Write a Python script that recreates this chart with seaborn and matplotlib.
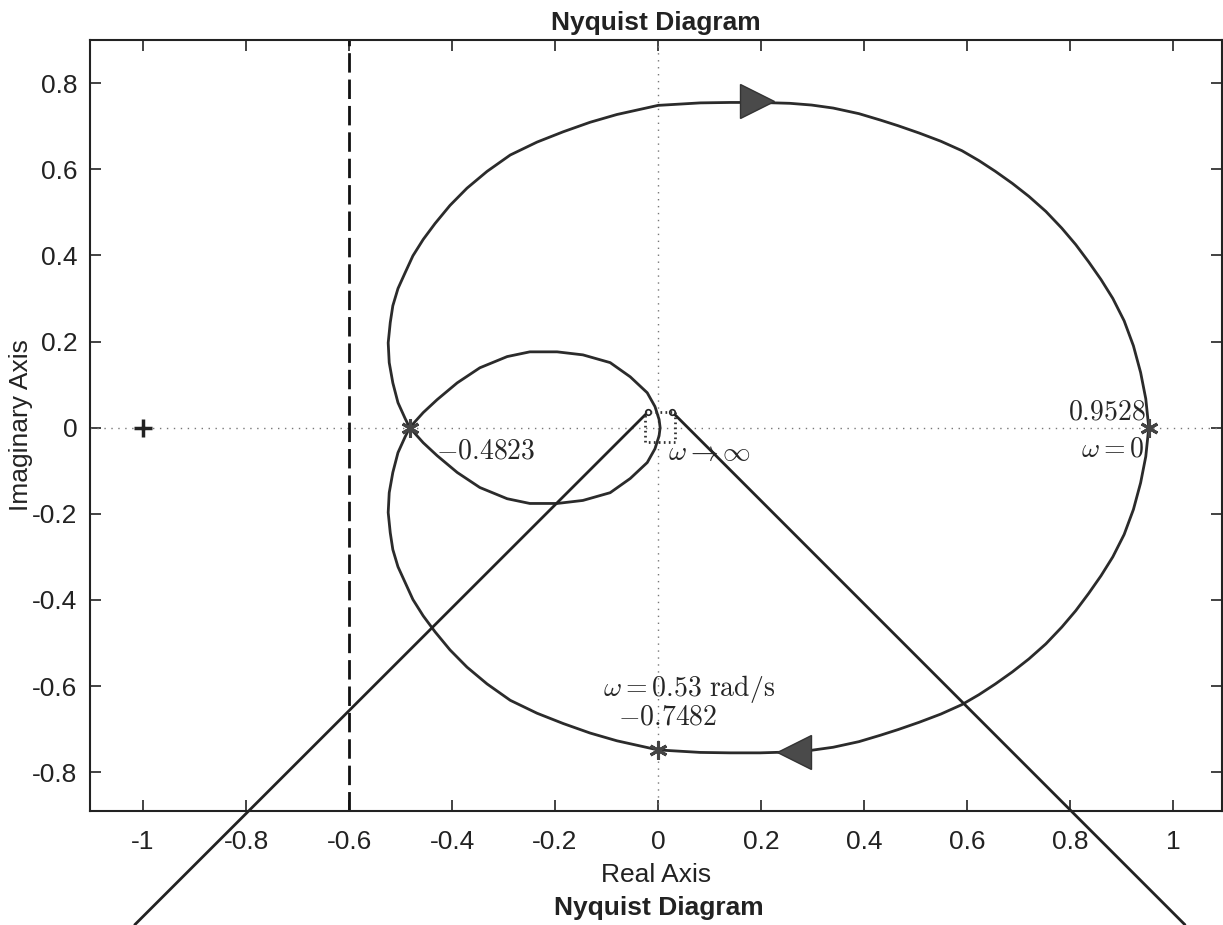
import numpy as np
import pandas as pd
import matplotlib
matplotlib.use("Agg")
import matplotlib.pyplot as plt
import seaborn as sns

# positive frequency branch (w = 0 -> inf)
re_pos = [0.9528, 0.947, 0.937, 0.923, 0.905, 0.883, 0.860, 0.836, 0.811, 0.784,
          0.753, 0.720, 0.688, 0.655, 0.623, 0.590, 0.549, 0.507, 0.466, 0.432,
          0.390, 0.340, 0.298, 0.256, 0.198, 0.140, 0.082, 0.040, 0.0,
          -0.035, -0.080, -0.132, -0.184, -0.235, -0.287, -0.332, -0.371, -0.404,
          -0.433, -0.456, -0.476, -0.491, -0.505, -0.515, -0.520, -0.524, -0.522,
          -0.515, -0.505, -0.491, -0.4823,
          -0.456, -0.429, -0.390, -0.346, -0.293, -0.249, -0.196, -0.146, -0.093,
          -0.054, -0.021, -0.006, 0.002, 0.004]
im_pos = [0.0, -0.067, -0.128, -0.190, -0.248, -0.300, -0.344, -0.385, -0.425, -0.463,
          -0.502, -0.537, -0.567, -0.595, -0.620, -0.643, -0.665, -0.684, -0.701, -0.714,
          -0.729, -0.742, -0.749, -0.753, -0.755, -0.755, -0.754, -0.751, -0.7482,
          -0.739, -0.727, -0.709, -0.687, -0.663, -0.633, -0.595, -0.556, -0.516,
          -0.474, -0.437, -0.399, -0.360, -0.323, -0.283, -0.244, -0.197, -0.151,
          -0.104, -0.058, -0.021, 0.0,
          0.035, 0.065, 0.104, 0.139, 0.165, 0.176, 0.176, 0.169, 0.151,
          0.118, 0.081, 0.049, 0.019, 0.0]

# marked points
mark_re = [0.9528, -0.4823, 0.0]
mark_im = [0.0, 0.0, -0.7482]

# direction arrows on the curve
arrow_re = [0.192, 0.264]
arrow_im = [0.758, -0.752]
arrow_mk = [">", "<"]

# hand drawn lines and the zoom box near the origin
left_line_re = [-0.019, -1.016]
left_line_im = [0.037, -1.154]
right_line_re = [0.027, 1.023]
right_line_im = [0.037, -1.154]
box_re = [-0.025, 0.033, 0.033, -0.025, -0.025]
box_im = [0.037, 0.037, -0.033, -0.033, 0.037]

xticks = [-1, -0.8, -0.6, -0.4, -0.2, 0, 0.2, 0.4, 0.6, 0.8, 1]
xtick_labels = ["-1", "-0.8", "-0.6", "-0.4", "-0.2", "0", "0.2", "0.4", "0.6", "0.8", "1"]
yticks = [-0.8, -0.6, -0.4, -0.2, 0, 0.2, 0.4, 0.6, 0.8]
ytick_labels = ["-0.8", "-0.6", "-0.4", "-0.2", "0", "0.2", "0.4", "0.6", "0.8"]

sns.set_theme(style="ticks")
plt.rcParams["font.family"] = ["Liberation Sans", "DejaVu Sans"]
plt.rcParams["mathtext.fontset"] = "cm"

# negative frequencies are the mirror image of the positive branch
curve = pd.DataFrame({
    "re": re_pos + re_pos[::-1],
    "im": im_pos + [-v for v in im_pos[::-1]],
})

fig = plt.figure(figsize=(12.23, 9.25), dpi=100)
ax = fig.add_axes([90 / 1223, 1 - 811 / 925, 1132 / 1223, 771 / 925])

ink = "#2b2b2b"

# MATLAB style dotted axes through the origin
ax.axhline(0, color="#777777", lw=1, ls=(0, (1, 4)), zorder=1)
ax.axvline(0, color="#777777", lw=1, ls=(0, (1, 4)), zorder=1)
ax.axvline(-0.6, color="#111111", lw=2, ls=(0, (7, 2.5)), zorder=2)

sns.lineplot(data=curve, x="re", y="im", sort=False, estimator=None,
             color=ink, lw=2, ax=ax, zorder=3)

ax.plot(-1, 0, marker="+", color="#222222", ms=13, mew=2.5, zorder=4)
ax.plot(mark_re, mark_im, ls="none", marker=(6, 2, 0), color="#444444",
        ms=13, mew=2.2, zorder=4)
for xr, yr, mk in zip(arrow_re, arrow_im, arrow_mk):
    ax.plot(xr, yr, marker=mk, ms=25, color="#4a4a4a", mec="#333333", mew=1, zorder=5)

for lx, ly in [(left_line_re, left_line_im), (right_line_re, right_line_im)]:
    ax.plot(lx, ly, color="#222222", lw=2, clip_on=False, zorder=3)
    ax.plot(lx[0], ly[0], marker="o", ms=4, mfc="white", mec="#222222", mew=1.2,
            clip_on=False, zorder=4)
ax.plot(box_re, box_im, color="#333333", lw=2, ls=(0, (0.6, 1.2)), zorder=4)

tsize = 20
ax.text(-0.432, -0.056, r"$-0.4823$", fontsize=tsize, ha="left", va="center")
ax.text(0.020, -0.058, r"$\omega \rightarrow \infty$", fontsize=tsize, ha="left", va="center")
ax.text(0.947, 0.036, r"$0.9528$", fontsize=tsize, ha="right", va="center")
ax.text(0.945, -0.051, r"$\omega = 0$", fontsize=tsize, ha="right", va="center")
ax.text(-0.107, -0.606, r"$\omega = 0.53\ \mathrm{rad/s}$", fontsize=tsize, ha="left", va="center")
ax.text(-0.078, -0.672, r"$-0.7482$", fontsize=tsize, ha="left", va="center")

ax.set_xlim(-1.103, 1.095)
ax.set_ylim(-0.89, 0.9)
ax.set_xticks(xticks)
ax.set_xticklabels(xtick_labels)
ax.set_yticks(yticks)
ax.set_yticklabels(ytick_labels)
ax.tick_params(direction="in", length=8, width=1.2, top=True, right=True,
               labelsize=19, colors="#222222")
ax.tick_params(axis="x", pad=14)
ax.tick_params(axis="y", pad=9)
for s in ax.spines.values():
    s.set_color("#222222")
    s.set_linewidth(1.5)

ax.set_title("Nyquist Diagram", fontsize=19, fontweight="bold", pad=7, color="#222222")
ax.set_xlabel("Real Axis", fontsize=19, color="#222222")
ax.xaxis.set_label_coords(0.5, -0.068)
ax.set_ylabel("Imaginary Axis", fontsize=19, color="#222222")
ax.yaxis.set_label_coords(-0.050, 0.5)
fig.text(659 / 1223, 1 - 908 / 925, "Nyquist Diagram", fontsize=19, fontweight="bold",
         ha="center", va="center", color="#222222")

fig.savefig("out.png", dpi=100)
